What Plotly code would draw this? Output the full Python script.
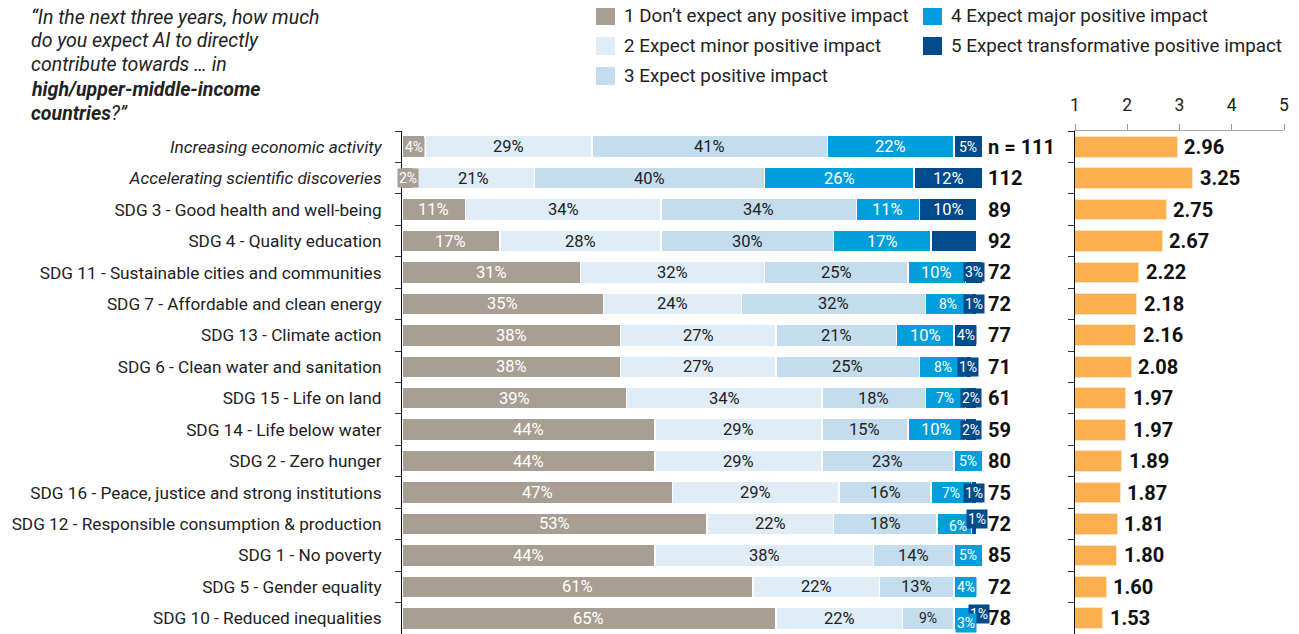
import plotly.graph_objects as go

# ---------------- data ----------------
categories = [
    "Increasing economic activity",
    "Accelerating scientific discoveries",
    "SDG 3 - Good health and well-being",
    "SDG 4 - Quality education",
    "SDG 11 - Sustainable cities and communities",
    "SDG 7 - Affordable and clean energy",
    "SDG 13 - Climate action",
    "SDG 6 - Clean water and sanitation",
    "SDG 15 - Life on land",
    "SDG 14 - Life below water",
    "SDG 2 - Zero hunger",
    "SDG 16 - Peace, justice and strong institutions",
    "SDG 12 - Responsible consumption & production",
    "SDG 1 - No poverty",
    "SDG 5 - Gender equality",
    "SDG 10 - Reduced inequalities",
]
italic_rows = [True, True] + [False] * 14

s1_no_impact = [4, 2, 11, 17, 31, 35, 38, 38, 39, 44, 44, 47, 53, 44, 61, 65]
s2_minor = [29, 21, 34, 28, 32, 24, 27, 27, 34, 29, 29, 29, 22, 38, 22, 22]
s3_positive = [41, 40, 34, 30, 25, 32, 21, 25, 18, 15, 23, 16, 18, 14, 13, 9]
s4_major = [22, 26, 11, 17, 10, 8, 10, 8, 7, 10, 5, 7, 6, 5, 4, 3]
s5_transformative = [5, 12, 10, 8, 3, 1, 4, 1, 2, 2, 0, 1, 1, 0, 0, 1]

n_values = [111, 112, 89, 92, 72, 72, 77, 71, 61, 59, 80, 75, 72, 85, 72, 78]
mean_scores = [2.96, 3.25, 2.75, 2.67, 2.22, 2.18, 2.16, 2.08, 1.97, 1.97,
               1.89, 1.87, 1.81, 1.80, 1.60, 1.53]

series_names = [
    "1 Don\u2019t expect any positive impact",
    "2 Expect minor positive impact",
    "3 Expect positive impact",
    "4 Expect major positive impact",
    "5 Expect transformative positive impact",
]
series_values = [s1_no_impact, s2_minor, s3_positive, s4_major, s5_transformative]

# ---------------- style ----------------
colors = ["#A89E94", "#E0ECF6", "#C3DDEE", "#009EDB", "#004B8B"]
text_colors = ["white", "#222222", "#222222", "white", "white"]
FONT = "Roboto"
W, H = 1299, 634
OFF = 8  # page body margin offset (screen px -> layout px)

def fx(px):  # screen x pixel -> paper fraction
    return (px - OFF) / W

TOP = 131 - OFF      # top margin in layout px
BOT = OFF            # bottom margin
PLOT_H = H - TOP - BOT

def fy(py):  # screen y pixel -> paper fraction
    return 1 + (TOP - (py - OFF)) / PLOT_H

# legend layout: (column x of swatch, row y centre) per series
legend_slots = [(596, 16), (596, 46), (596, 76), (923, 16), (923, 46)]

# label handling: hidden label, and offsets (xshift, yshift) for crowded boxes
unlabeled = {(3, 4)}
label_offsets = {(12, 3): (4, -2), (12, 4): (3, 5), (15, 3): (3, -5), (15, 4): (5, 4)}

cat_display = [f"<i>{c}</i>" if it else c for c, it in zip(categories, italic_rows)]

fig = go.Figure()
annotations = []
shapes = []

for si, (name, vals) in enumerate(zip(series_names, series_values)):
    fig.add_trace(go.Bar(
        y=cat_display, x=vals, orientation="h", name=name,
        marker=dict(color=colors[si], line=dict(color="white", width=1.5)),
        width=0.7, xaxis="x", yaxis="y", showlegend=False,
        hoverinfo="skip",
    ))
    # legend entry
    lx, ly = legend_slots[si]
    shapes.append(dict(
        type="rect", xref="paper", yref="paper",
        x0=fx(lx), x1=fx(lx + 19), y0=fy(ly - 9), y1=fy(ly + 9),
        fillcolor=colors[si], line=dict(width=0),
    ))
    annotations.append(dict(
        x=fx(lx + 26), y=fy(ly), xref="paper", yref="paper", text=name,
        showarrow=False, xanchor="left", yanchor="middle",
        font=dict(family=FONT, size=18.8, color="#222222"),
    ))

# segment labels (series order reversed so lower series' boxes sit on top)
for si in reversed(range(5)):
    for ri in range(len(categories)):
        v = series_values[si][ri]
        if v <= 0 or (ri, si) in unlabeled:
            continue
        start = sum(series_values[k][ri] for k in range(si))
        xs, ys = label_offsets.get((ri, si), (0, 0))
        small = v <= 5
        annotations.append(dict(
            x=start + v / 2, y=cat_display[ri], xref="x", yref="y",
            text=f"{v}%", showarrow=False, xshift=xs, yshift=ys,
            font=dict(family=FONT, size=(16.5 if v >= 10 else 14), color=text_colors[si]),
            bgcolor=(colors[si] if small else "rgba(0,0,0,0)"), borderpad=1,
        ))

# mean score bars
fig.add_trace(go.Bar(
    y=cat_display, x=mean_scores, orientation="h", showlegend=False,
    marker=dict(color="#FBAF4E", line=dict(color="#FDE3BE", width=1)),
    width=0.66, xaxis="x2", yaxis="y2", hoverinfo="skip",
))
for ri, m in enumerate(mean_scores):
    annotations.append(dict(
        x=m, y=cat_display[ri], xref="x2", yref="y2", text=f"<b>{m:.2f}</b>",
        showarrow=False, xanchor="left", xshift=5,
        font=dict(family=FONT, size=20, color="#111111"),
    ))

# n labels
for ri, n in enumerate(n_values):
    annotations.append(dict(
        x=fx(986), y=cat_display[ri], xref="paper", yref="y",
        text=(f"<b>n = {n}</b>" if ri == 0 else f"<b>{n}</b>"),
        showarrow=False, xanchor="left",
        font=dict(family=FONT, size=20, color="#111111"),
    ))

# title question
title_lines = [
    "<i>\u201cIn the next three years, how much</i>",
    "<i>do you expect AI to directly</i>",
    "<i>contribute towards \u2026 in</i>",
    "<i><b>high/upper-middle-income</b></i>",
    "<i><b>countries</b>?\u201d</i>",
]
for li, line in enumerate(title_lines):
    annotations.append(dict(
        x=fx(29), y=fy(17 + 24 * li), xref="paper", yref="paper",
        text=line, showarrow=False, xanchor="left", yanchor="middle",
        font=dict(family=FONT, size=19.5, color="#222222"),
    ))

fig.update_layout(
    width=W, height=H,
    margin=dict(l=0, r=0, t=TOP, b=BOT, pad=0, autoexpand=False),
    paper_bgcolor="white", plot_bgcolor="white",
    barmode="stack",
    font=dict(family=FONT, color="#222222"),
    showlegend=False,
    xaxis=dict(domain=[fx(402), fx(402 + 105 * 5.75)], range=[0, 105],
               visible=False, fixedrange=True, automargin=False),
    yaxis=dict(anchor="x", categoryorder="array", categoryarray=cat_display,
               autorange="reversed", showline=True, linecolor="#111111", linewidth=1,
               ticks="outside", tickson="boundaries", ticklen=6, tickcolor="#333333",
               ticklabelstandoff=16, automargin=False,
               tickfont=dict(family=FONT, size=17.2, color="#222222"),
               showgrid=False, zeroline=False),
    xaxis2=dict(domain=[fx(1075), fx(1284)], range=[1, 5], anchor="y2", side="top",
                tickvals=[1, 2, 3, 4, 5], ticks="outside", ticklen=6, tickcolor="#999999",
                showline=True, linecolor="#AAAAAA", linewidth=1, automargin=False,
                ticklabelstandoff=6,
                tickfont=dict(family=FONT, size=17.5, color="#222222"),
                showgrid=False, zeroline=False),
    yaxis2=dict(anchor="x2", matches="y", showticklabels=False, automargin=False,
                categoryorder="array", categoryarray=cat_display, autorange="reversed",
                showline=True, linecolor="#111111", linewidth=1,
                ticks="outside", tickson="boundaries", ticklen=6, tickcolor="#333333",
                showgrid=False, zeroline=False),
    annotations=annotations,
    shapes=shapes,
)

fig.write_html("out.html")
